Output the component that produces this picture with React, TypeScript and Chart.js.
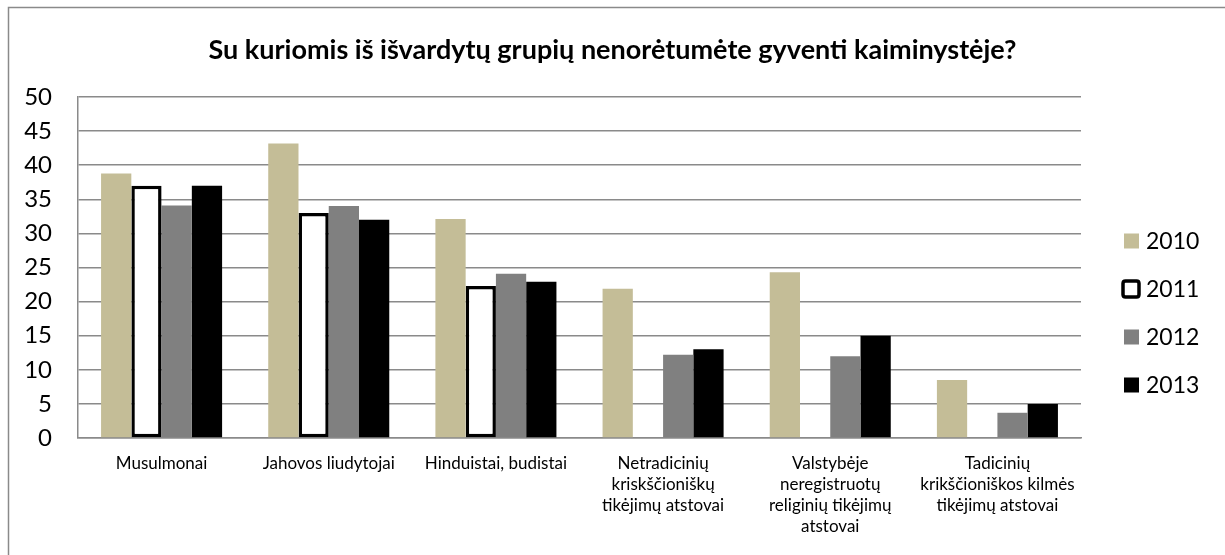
import React, { useEffect, useRef } from "react";
import { Chart, registerables } from "chart.js";

Chart.register(...registerables);

const TITLE = "Su kuriomis iš išvardytų grupių nenorėtumėte gyventi kaiminystėje?";

const categories: (string | string[])[] = [
  "Musulmonai",
  "Jahovos liudytojai",
  "Hinduistai, budistai",
  ["Netradicinių", "kriskščioniškų", "tikėjimų atstovai"],
  ["Valstybėje", "neregistruotų", "religinių tikėjimų", "atstovai"],
  ["Tadicinių", "krikščioniškos kilmės", "tikėjimų atstovai"],
];

const seriesNames = ["2010", "2011", "2012", "2013"];

const values2010 = [38.8, 43.2, 32.1, 21.9, 24.3, 8.5];
const values2011: (number | null)[] = [37, 33, 22.3, null, null, null];
const values2012 = [34.1, 34, 24.1, 12.2, 12.0, 3.7];
const values2013 = [37, 32, 22.9, 13.0, 15.0, 5.0];

const yTicks = [0, 5, 10, 15, 20, 25, 30, 35, 40, 45, 50];

const FONT = "Lato, 'Noto Sans', sans-serif";

const frameTitleLegend = {
  id: "frameTitleLegend",
  beforeDraw(chart: any) {
    const ctx = chart.ctx;
    ctx.save();
    ctx.fillStyle = "#ffffff";
    ctx.fillRect(0, 0, chart.width, chart.height);
    ctx.strokeStyle = "#8a8a8a";
    ctx.lineWidth = 1.5;
    ctx.beginPath();
    ctx.moveTo(8.5, chart.height);
    ctx.lineTo(8.5, 7.5);
    ctx.lineTo(chart.width, 7.5);
    ctx.stroke();
    // title
    ctx.fillStyle = "#000000";
    ctx.font = `bold 27px ${FONT}`;
    ctx.textAlign = "center";
    ctx.textBaseline = "middle";
    ctx.fillText(TITLE, chart.width / 2, 50);
    ctx.restore();
  },
  afterDraw(chart: any) {
    const ctx = chart.ctx;
    const area = chart.chartArea;
    ctx.save();
    const x0 = area.right + 43;
    chart.data.datasets.forEach((ds: any, i: number) => {
      const cy = area.top + 144 + i * 48;
      if (ds.borderWidth && ds.borderWidth > 0) {
        ctx.fillStyle = "#ffffff";
        ctx.strokeStyle = "#000000";
        ctx.lineWidth = 3.5;
        const s = 16;
        const x = x0 - 1;
        const y = cy - s / 2;
        const r = 2.5;
        ctx.beginPath();
        ctx.moveTo(x + r, y);
        ctx.lineTo(x + s - r, y);
        ctx.quadraticCurveTo(x + s, y, x + s, y + r);
        ctx.lineTo(x + s, y + s - r);
        ctx.quadraticCurveTo(x + s, y + s, x + s - r, y + s);
        ctx.lineTo(x + r, y + s);
        ctx.quadraticCurveTo(x, y + s, x, y + s - r);
        ctx.lineTo(x, y + r);
        ctx.quadraticCurveTo(x, y, x + r, y);
        ctx.closePath();
        ctx.fill();
        ctx.stroke();
      } else {
        ctx.fillStyle = ds.backgroundColor;
        ctx.fillRect(x0, cy - 7.5, 15, 15);
      }
      ctx.fillStyle = "#000000";
      ctx.font = `23px ${FONT}`;
      ctx.textBaseline = "middle";
      ctx.textAlign = "left";
      ctx.fillText(ds.label, x0 + 22, cy + 1);
    });
    ctx.restore();
  },
};

export default function App() {
  const canvasRef = useRef<HTMLCanvasElement | null>(null);

  useEffect(() => {
    if (!canvasRef.current) return;
    const chart = new Chart(canvasRef.current, {
      type: "bar",
      data: {
        labels: categories,
        datasets: [
          {
            label: seriesNames[0],
            data: values2010,
            backgroundColor: "#C4BD97",
            borderWidth: 0,
          },
          {
            label: seriesNames[1],
            data: values2011,
            backgroundColor: "#ffffff",
            borderColor: "#000000",
            borderWidth: 3.5,
            borderSkipped: false,
          },
          {
            label: seriesNames[2],
            data: values2012,
            backgroundColor: "#808080",
            borderWidth: 0,
          },
          {
            label: seriesNames[3],
            data: values2013,
            backgroundColor: "#000000",
            borderWidth: 0,
          },
        ],
      },
      options: {
        responsive: false,
        animation: false,
        devicePixelRatio: 1,
        layout: { padding: { left: 0, right: 144, top: 97, bottom: 0 } },
        datasets: {
          bar: { categoryPercentage: 0.724, barPercentage: 1.0 },
        },
        plugins: {
          legend: { display: false },
          tooltip: { enabled: false },
          title: { display: false },
        },
        scales: {
          x: {
            grid: { display: false, drawTicks: false },
            border: { display: true, color: "#8a8a8a", width: 1.5 },
            ticks: {
              color: "#000000",
              font: { family: FONT, size: 17, lineHeight: "21px" },
              padding: 15,
              maxRotation: 0,
              autoSkip: false,
            },
            afterFit: (scale: any) => {
              scale.height = 117;
            },
          },
          y: {
            min: 0,
            max: 50,
            afterBuildTicks: (scale: any) => {
              scale.ticks = yTicks.map((v) => ({ value: v }));
            },
            grid: { color: "#8a8a8a", lineWidth: 1.5, drawTicks: false },
            border: { display: true, color: "#8a8a8a", width: 1.5 },
            ticks: {
              color: "#000000",
              font: { family: FONT, size: 24 },
              padding: 26,
            },
            afterFit: (scale: any) => {
              scale.width = 78;
            },
          },
        },
      },
      plugins: [frameTitleLegend],
    });
    return () => chart.destroy();
  }, []);

  return (
    <div style={{ position: "absolute", left: 0, top: 0, width: 1225, height: 555 }}>
      <canvas ref={canvasRef} width={1225} height={555} style={{ display: "block" }} />
    </div>
  );
}
